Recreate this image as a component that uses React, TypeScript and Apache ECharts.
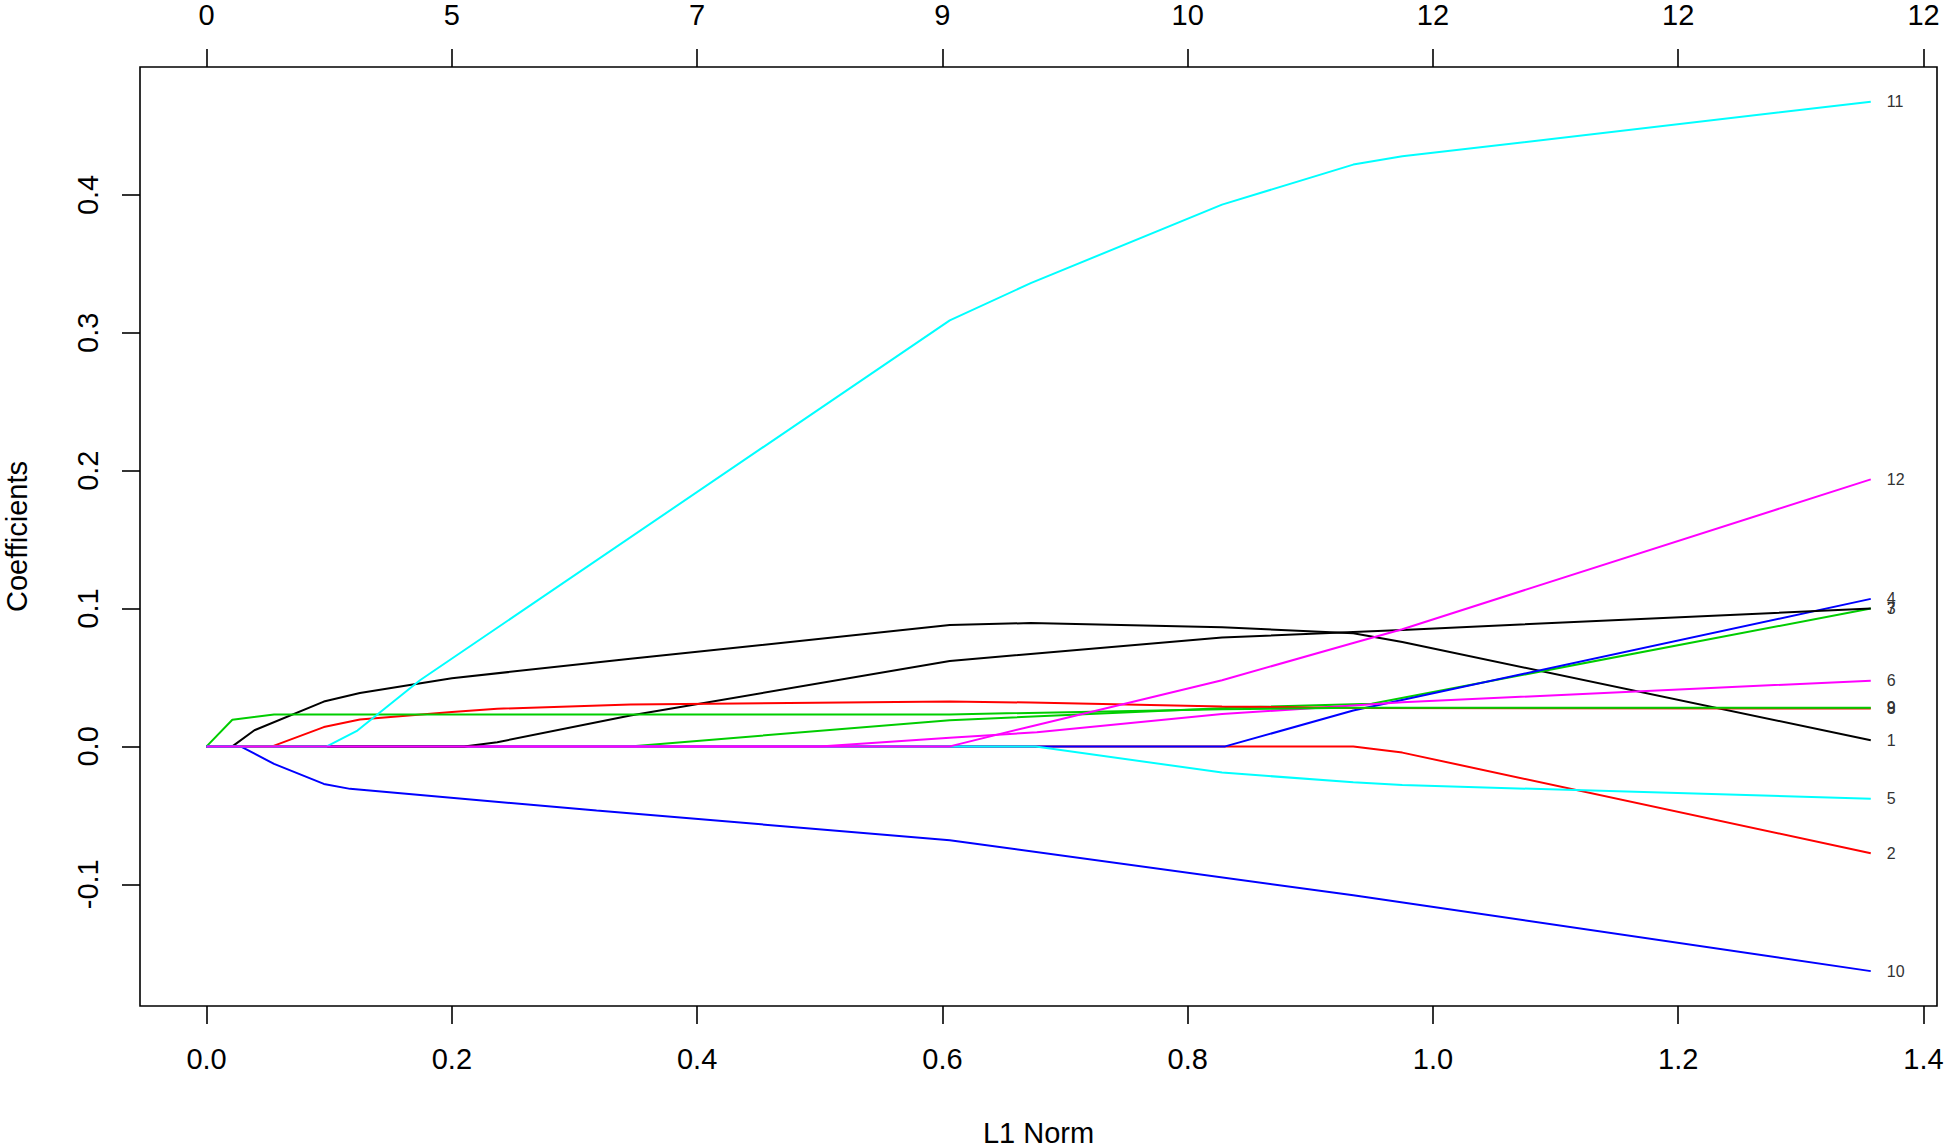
import React, { useEffect, useRef } from "react";
import * as echarts from "echarts";

// L1 norm (x) and coefficient (y) pairs along each lasso path
const path1: number[][] = [[0, 0], [0.021, 0], [0.039, 0.0117], [0.0956, 0.0325], [0.125, 0.0387], [0.2, 0.0495], [0.3456, 0.0635], [0.606, 0.088], [0.672, 0.0895], [0.828, 0.0865], [0.935, 0.082], [0.975, 0.0757], [1.357, 0.0045]];
const path2: number[][] = [[0, 0], [0.935, 0], [0.975, -0.0045], [1.357, -0.0775]];
const path3: number[][] = [[0, 0], [0.345, 0], [0.606, 0.019], [0.85, 0.0285], [0.95, 0.031], [1.357, 0.1]];
const path4: number[][] = [[0, 0], [0.8306, 0], [0.935, 0.026], [1.357, 0.107]];
const path5: number[][] = [[0, 0], [0.676, 0], [0.828, -0.019], [0.935, -0.026], [0.975, -0.028], [1.357, -0.038]];
const path6: number[][] = [[0, 0], [0.5, 0], [0.606, 0.0062], [0.677, 0.0103], [0.828, 0.0235], [0.935, 0.0297], [0.975, 0.032], [1.357, 0.0477]];
const path7: number[][] = [[0, 0], [0.21, 0], [0.237, 0.003], [0.3456, 0.0224], [0.606, 0.062], [0.828, 0.079], [0.935, 0.083], [0.975, 0.0845], [1.357, 0.1]];
const path8: number[][] = [[0, 0], [0.0535, 0], [0.0956, 0.014], [0.125, 0.0195], [0.2, 0.025], [0.237, 0.0273], [0.3456, 0.0304], [0.606, 0.0326], [0.672, 0.0318], [0.828, 0.029], [0.935, 0.0278], [1.357, 0.0275]];
const path9: number[][] = [[0, 0], [0.021, 0.0193], [0.055, 0.0232], [0.606, 0.0232], [0.828, 0.027], [0.935, 0.028], [1.357, 0.028]];
const path10: number[][] = [[0, 0], [0.0277, 0], [0.055, -0.0127], [0.0956, -0.0272], [0.117, -0.0308], [0.318, -0.0465], [0.606, -0.068], [0.935, -0.108], [1.357, -0.163]];
const path11: number[][] = [[0, 0], [0.098, 0], [0.123, 0.0115], [0.174, 0.048], [0.606, 0.309], [0.672, 0.336], [0.828, 0.393], [0.935, 0.422], [0.975, 0.428], [1.357, 0.4676]];
const path12: number[][] = [[0, 0], [0.606, 0], [0.672, 0.0145], [0.828, 0.048], [0.935, 0.075], [0.975, 0.085], [1.357, 0.1937]];

const seriesNames = ["1", "2", "3", "4", "5", "6", "7", "8", "9", "10", "11", "12"];
const paths = [path1, path2, path3, path4, path5, path6, path7, path8, path9, path10, path11, path12];
const palette = ["#000000", "#FF0000", "#00CD00", "#0000FF", "#00FFFF", "#FF00FF"];

const bottomTicks = [0, 0.2, 0.4, 0.6, 0.8, 1.0, 1.2, 1.4];
const topDfLabels = ["0", "5", "7", "9", "10", "12", "12", "12"];
const yTicks = [-0.1, 0, 0.1, 0.2, 0.3, 0.4];

const FONT = "'Liberation Sans', Arial, Helvetica, sans-serif";

export default function App() {
  const ref = useRef<HTMLDivElement>(null);
  useEffect(() => {
    if (!ref.current) return;
    const chart = echarts.init(ref.current, undefined, { renderer: "svg" });
    const tickStyle = { show: true, length: 18, lineStyle: { color: "#000", width: 1.6 } };
    const labelStyle = { fontSize: 29, color: "#000", fontFamily: FONT, margin: 38 };
    const hiddenLine = { show: false, onZero: false };
    chart.setOption({
      animation: false,
      backgroundColor: "#ffffff",
      grid: {
        left: 140,
        top: 67,
        width: 1797,
        height: 939,
        show: true,
        borderColor: "#000",
        borderWidth: 1.6,
        backgroundColor: "transparent",
        containLabel: false,
        outerBoundsMode: "none",
      },
      xAxis: [
        {
          type: "value",
          position: "bottom",
          min: -0.0543,
          max: 1.411,
          splitLine: { show: false },
          axisLine: hiddenLine,
          axisTick: { ...tickStyle, customValues: bottomTicks },
          axisLabel: {
            ...labelStyle,
            customValues: bottomTicks,
            formatter: (v: number) => v.toFixed(1),
          },
          name: "L1 Norm",
          nameLocation: "middle",
          nameGap: 112,
          nameTextStyle: { fontSize: 29, color: "#000", fontFamily: FONT },
        },
        {
          type: "value",
          position: "top",
          min: -0.0543,
          max: 1.411,
          splitLine: { show: false },
          axisLine: hiddenLine,
          axisTick: { ...tickStyle, customValues: bottomTicks },
          axisLabel: {
            ...labelStyle,
            customValues: bottomTicks,
            formatter: (v: number) => topDfLabels[Math.round(v / 0.2)] ?? "",
          },
        },
      ],
      yAxis: {
        type: "value",
        position: "left",
        min: -0.1883,
        max: 0.4928,
        splitLine: { show: false },
        axisLine: hiddenLine,
        axisTick: { ...tickStyle, customValues: yTicks },
        axisLabel: {
          ...labelStyle,
          rotate: 90,
          customValues: yTicks,
          formatter: (v: number) => v.toFixed(1),
        },
        name: "Coefficients",
        nameLocation: "middle",
        nameRotate: 90,
        nameGap: 109,
        nameTextStyle: { fontSize: 29, color: "#000", fontFamily: FONT },
      },
      series: paths.map((p, i) => ({
        name: seriesNames[i],
        type: "line",
        xAxisIndex: 0,
        data: p,
        showSymbol: false,
        symbol: "none",
        lineStyle: { color: palette[i % 6], width: 2 },
        itemStyle: { color: palette[i % 6] },
        emphasis: { disabled: true },
        endLabel: {
          show: true,
          formatter: "{a}",
          fontSize: 16,
          color: "#333",
          fontFamily: FONT,
          distance: 16,
        },
      })),
    });
    return () => chart.dispose();
  }, []);
  return (
    <div
      ref={ref}
      style={{ position: "absolute", left: 0, top: 0, width: 1946, height: 1148 }}
    />
  );
}
